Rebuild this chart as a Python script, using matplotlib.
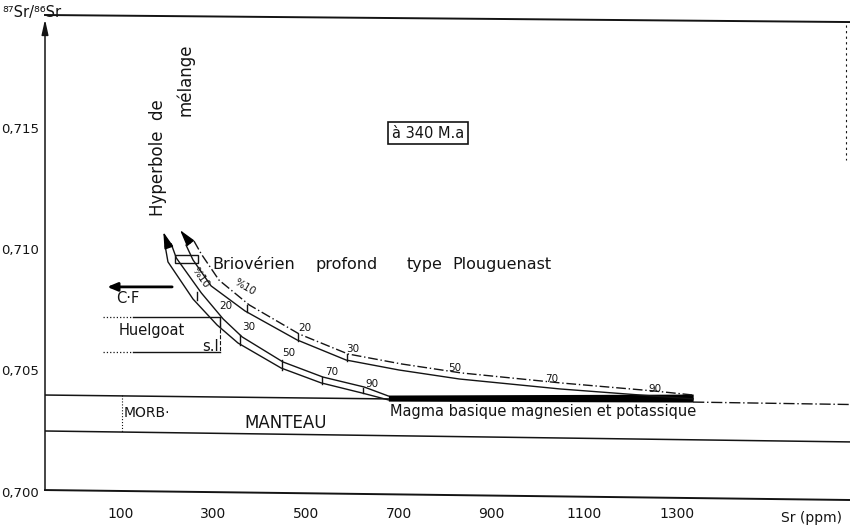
import numpy as np
import matplotlib.pyplot as plt

# axis ticks
sr_ticks = [100, 300, 500, 700, 900, 1100, 1300]
sr_labels = ['100', '300', '500', '700', '900', '1100', '1300']
ratio_ticks = [0.700, 0.705, 0.710, 0.715]
ratio_labels = ['0,700', '0,705', '0,710', '0,715']

# mixing hyperbola 1 (double solid line)
h1_sr_a = [197, 203, 257, 309, 354, 447, 533, 622, 678]
h1_r_a = [0.71012, 0.70947, 0.70794, 0.70687, 0.70613, 0.70510, 0.70449, 0.70407, 0.70379]
h1_sr_b = [210, 221, 275, 322, 363, 451, 537, 626, 678]
h1_r_b = [0.71021, 0.70963, 0.70819, 0.70712, 0.70638, 0.70535, 0.70473, 0.70432, 0.70395]

# mixing hyperbola 2 (dash-dot + solid)
h2_sr_up = [259, 275, 313, 378, 486, 591, 706, 835, 1048, 1249, 1335]
h2_r_up = [0.71033, 0.70979, 0.70872, 0.70770, 0.70650, 0.70568, 0.70527, 0.70490, 0.70449, 0.70416, 0.70399]
h2_sr_lo = [242, 257, 296, 369, 481, 587, 701, 831, 1048, 1249, 1335]
h2_r_lo = [0.71016, 0.70955, 0.70848, 0.70745, 0.70626, 0.70543, 0.70502, 0.70465, 0.70424, 0.70395, 0.70383]

# percentage marks on the hyperbolas
h1_pct = ['%10', '20', '30', '50', '70', '90']
h1_pct_sr = [272, 328, 376, 464, 555, 643]
h1_pct_r = [0.70881, 0.70765, 0.70679, 0.70572, 0.70494, 0.70444]
h1_tick_sr = [266, 316, 359, 449, 535, 624]
h1_tick_r0 = [0.70823, 0.70716, 0.70646, 0.70543, 0.70473, 0.70428]
h1_tick_r1 = [0.70790, 0.70679, 0.70605, 0.70502, 0.70444, 0.70407]

h2_pct = ['%10', '20', '30', '50', '70', '90']
h2_pct_sr = [369, 499, 602, 822, 1031, 1253]
h2_pct_r = [0.70844, 0.70675, 0.70588, 0.70510, 0.70465, 0.70424]
h2_tick_sr = [374, 484, 589]
h2_tick_r0 = [0.70770, 0.70650, 0.70568]
h2_tick_r1 = [0.70741, 0.70621, 0.70539]

# basic magma end-member (black bar)
magma_sr = [678, 1335]
magma_lo = [0.70374, 0.70370]
magma_hi = [0.70399, 0.70403]

# field boundaries (scan is slightly tilted)
frame_sr = [-62, 1673]
top_r = [0.71963, 0.71934]
bottom_r = [0.70008, 0.69967]
mantle_r = [0.70251, 0.70206]
line704_sr = [-62, 678]
line704_r = [0.70399, 0.70383]
line704b_sr = [1335, 1673]
line704b_r = [0.70370, 0.70360]

huel_dot_sr = [63, 128]
huel_sr = [128, 316]
huel_top = 0.70720
huel_bot = 0.70576
cf_sr = [212, 72]
cf_r = 0.70844
morb_sr = 104
morb_r = [0.70399, 0.70247]
brio_sr = [219, 268]
brio_r = [0.70942, 0.70975]
brio_words = ['Briovérien', 'profond', 'type', 'Plouguenast']
brio_word_sr = [298, 522, 718, 815]

ink = '#141414'
fig = plt.figure(figsize=(8.5, 5.32), dpi=100)
ax = fig.add_axes([45 / 850, 32 / 532, 805 / 850, 485 / 532])
ax.set_xlim(-62, 1673)
ax.set_ylim(0.69967, 0.71963)
for s in ax.spines.values():
    s.set_visible(False)
ax.set_xticks(sr_ticks, labels=sr_labels)
ax.set_yticks(ratio_ticks, labels=ratio_labels)
ax.tick_params(length=0, pad=5, labelsize=10, colors=ink)
ax.tick_params(axis='y', labelsize=9.5, pad=4.5)

# frame
ax.plot(frame_sr, top_r, color=ink, lw=1.4, clip_on=False)
ax.plot(frame_sr, bottom_r, color=ink, lw=1.4, clip_on=False)
ax.annotate('', xy=(-62, 0.71945), xytext=(-62, 0.70008),
            arrowprops=dict(arrowstyle='-|>,head_length=0.9,head_width=0.2',
                            color=ink, lw=1.1, shrinkA=0, shrinkB=0),
            annotation_clip=False)
ax.plot([1665, 1665], [0.71922, 0.71366], color=ink, lw=0.8, ls=(0, (2, 3)), clip_on=False)

# mantle field
ax.plot(frame_sr, mantle_r, color=ink, lw=1.1)
ax.plot(line704_sr, line704_r, color=ink, lw=1.1)
ax.plot(line704b_sr, line704b_r, color=ink, lw=1.0, ls=(0, (8, 2, 1, 2)))
ax.plot([morb_sr, morb_sr], morb_r, color=ink, lw=0.8, ls=':')
ax.text(morb_sr + 4, 0.70325, 'MORB·', fontsize=10, color=ink, va='center', ha='left')
ax.text(456, 0.70282, 'MANTEAU', fontsize=12, color=ink, va='center', ha='center')

# magma bar
ax.fill_between(magma_sr, magma_lo, magma_hi, color='black', lw=0)
ax.text(682, 0.70333, 'Magma basique magnesien et potassique', fontsize=10.5,
        color=ink, va='center', ha='left')

# hyperbolas
ax.plot(h1_sr_a, h1_r_a, color=ink, lw=1.0)
ax.plot(h1_sr_b, h1_r_b, color=ink, lw=1.0)
ax.plot(h2_sr_up, h2_r_up, color=ink, lw=1.0, ls=(0, (7, 2, 1, 2)))
ax.plot(h2_sr_lo, h2_r_lo, color=ink, lw=1.0)
for x, a, b in zip(h1_tick_sr, h1_tick_r0, h1_tick_r1):
    ax.plot([x, x], [a, b], color=ink, lw=1.0)
for x, a, b in zip(h2_tick_sr, h2_tick_r0, h2_tick_r1):
    ax.plot([x, x], [a, b], color=ink, lw=1.0)
for i, (t, x, y) in enumerate(zip(h1_pct, h1_pct_sr, h1_pct_r)):
    ax.text(x, y, t, fontsize=7.5, color=ink, ha='center', va='center',
            rotation=-55 if i == 0 else 0)
for i, (t, x, y) in enumerate(zip(h2_pct, h2_pct_sr, h2_pct_r)):
    ax.text(x, y, t, fontsize=7.5, color=ink, ha='center', va='center',
            rotation=-30 if i == 0 else 0)

arrow = dict(arrowstyle='-|>,head_length=1.0,head_width=0.28', color='black',
             lw=1.0, shrinkA=0, shrinkB=0)
ax.annotate('', xy=(193, 0.71070), xytext=(203, 0.71016), arrowprops=arrow)
ax.annotate('', xy=(229, 0.71078), xytext=(251, 0.71025), arrowprops=arrow)
ax.text(182, 0.71374, 'Hyperbole  de', fontsize=12, color=ink, rotation=90,
        ha='center', va='center')
ax.text(240, 0.71695, 'mélange', fontsize=12, color=ink, rotation=90,
        ha='center', va='center')

# Briovérien
ax.add_patch(plt.Rectangle((brio_sr[0], brio_r[0]), brio_sr[1] - brio_sr[0],
                           brio_r[1] - brio_r[0], fill=False, ec=ink, lw=1.0))
for w, x in zip(brio_words, brio_word_sr):
    ax.text(x, 0.70938, w, fontsize=11.5, color=ink, va='center', ha='left')

# C.F and Huelgoat
ax.annotate('', xy=(cf_sr[1], cf_r), xytext=(cf_sr[0], cf_r),
            arrowprops=dict(arrowstyle='-|>,head_length=0.6,head_width=0.25',
                            color='black', lw=2.0, shrinkA=0, shrinkB=0))
ax.text(116, 0.70798, 'C·F', fontsize=10.5, color=ink, ha='center', va='center')
ax.plot(huel_dot_sr, [huel_top, huel_top], color=ink, lw=0.9, ls=':')
ax.plot(huel_sr, [huel_top, huel_top], color=ink, lw=1.0)
ax.plot(huel_dot_sr, [huel_bot, huel_bot], color=ink, lw=0.9, ls=':')
ax.plot(huel_sr, [huel_bot, huel_bot], color=ink, lw=1.0)
ax.plot([huel_sr[1], huel_sr[1]], [huel_top, huel_bot], color=ink, lw=0.8, ls='--')
ax.text(169, 0.70663, 'Huelgoat', fontsize=10.5, color=ink, ha='center', va='center')
ax.text(294, 0.70597, 's.l', fontsize=10.5, color=ink, ha='center', va='center')

# age box
ax.text(764, 0.71477, 'à 340 M.a', fontsize=10.5, color=ink, ha='center', va='center',
        bbox=dict(boxstyle='square,pad=0.25', fc='white', ec=ink, lw=1.2))

ax.text(1591, 0.69893, 'Sr (ppm)', fontsize=10, color=ink, ha='center', va='center',
        clip_on=False)
fig.text(0.003, 1 - 13 / 532, '⁸⁷Sr/⁸⁶Sr', fontsize=10.5, color=ink,
         ha='left', va='center')

fig.savefig('out.png', dpi=100)
